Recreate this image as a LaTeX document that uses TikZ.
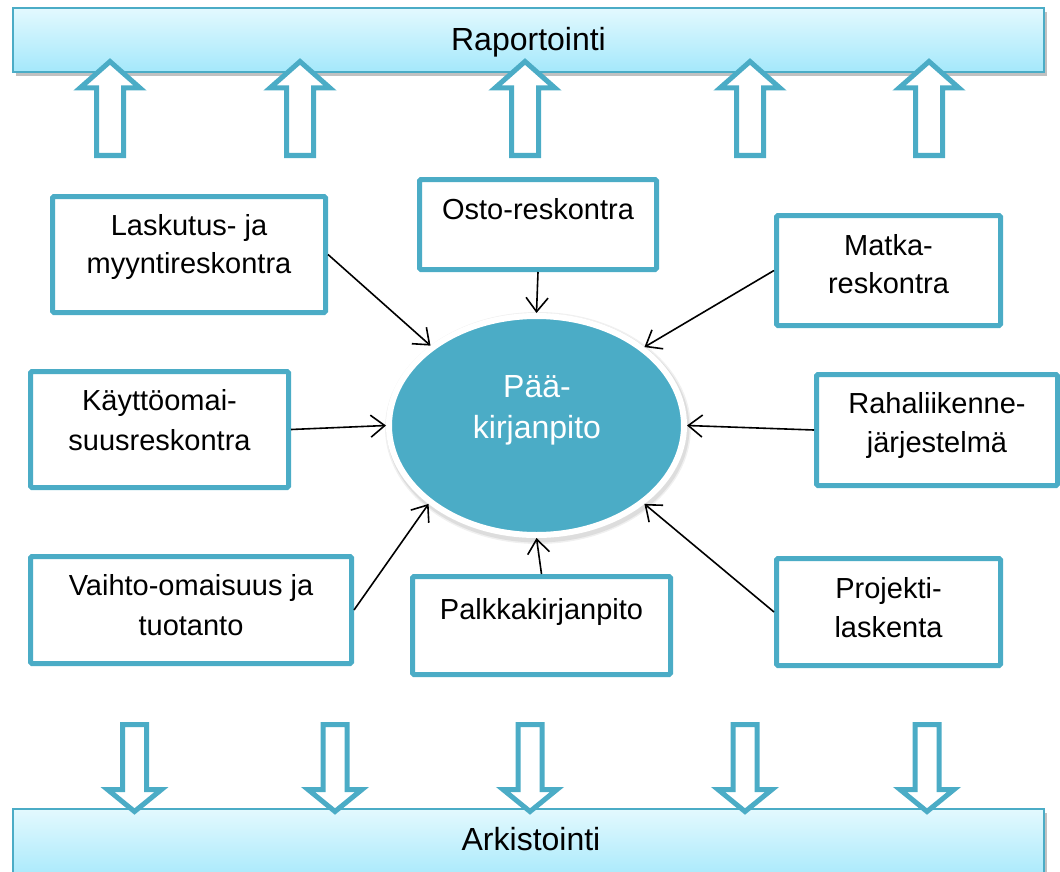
\documentclass[tikz,border=0pt]{standalone}
\usepackage{fontspec}
\setmainfont{Liberation Sans}
\usetikzlibrary{arrows.meta,shapes.geometric,shadows}
\definecolor{teal5}{HTML}{4BACC6}
\definecolor{bartop}{HTML}{E3F9FE}
\definecolor{barbot}{HTML}{A4E8FB}
\begin{document}
\begin{tikzpicture}[x=1pt,y=-1pt,
  bar/.style={draw=teal5, line width=1.5pt, top color=bartop, bottom color=barbot,
    minimum width=1031, inner sep=0,
    drop shadow={shadow xshift=3pt, shadow yshift=-4pt, opacity=0.35, fill=black!70}},
  bartxt/.style={font=\fontsize{32}{38}\selectfont, inner sep=0, anchor=base},
  boxst/.style={draw=teal5, line width=5pt, fill=white, rounded corners=1.5pt, inner sep=0},
  btxt/.style={font=\fontsize{29}{35}\selectfont, inner sep=0, anchor=base},
  etxt/.style={font=\fontsize{32}{38}\selectfont, inner sep=0, anchor=base, text=white},
  blockar/.style={draw=teal5, line width=5pt, fill=white, line join=miter},
  conn/.style={draw=black, line width=1.6pt, -{Straight Barb[length=14pt, width=22pt]}},
  uparr/.pic={\path[blockar] (0,61.5) -- (30,88) -- (13.5,88) -- (13.5,155.5) -- (-13.5,155.5) -- (-13.5,88) -- (-30,88) -- cycle;},
  downarr/.pic={\path[blockar] (0,811.5) -- (27,789.5) -- (12,789.5) -- (12,724.5) -- (-12,724.5) -- (-12,789.5) -- (-27,789.5) -- cycle;}
]
\useasboundingbox (0,0) rectangle (1060,872);

% bars
\node[bar, minimum height=64] (rap) at (528.5,40) {};
\node[bartxt] (raptxt) at (528.5,51) {Raportointi};
\node[bar, minimum height=74] (ark) at (528.5,846) {};
\node[bartxt] (arktxt) at (531,850) {Arkistointi};

% block arrows
\foreach \c [count=\i] in {110,300,525,750,929} \pic (up\i) at (\c,0) {uparr};
\foreach \c [count=\i] in {134.5,335,530,745,927} \pic (dn\i) at (\c,0) {downarr};

% central ellipse with soft halo
\fill[black, opacity=0.06] (538,428) ellipse [x radius=153, y radius=116];
\fill[black, opacity=0.08] (538,428) ellipse [x radius=151.5, y radius=114.5];
\node[ellipse, draw=white, line width=6pt, fill=teal5, minimum width=295, minimum height=219, inner sep=0] (ell) at (536.5,425.5) {};
\node[etxt] (e1) at (537,397) {Pää-};
\node[etxt] (e2) at (537,438) {kirjanpito};

% boxes
\node[boxst, minimum width=273, minimum height=116] (lask) at (189,254.5) {};
\node[btxt] (lask1) at (189,235) {Laskutus- ja};
\node[btxt] (lask2) at (189,273) {myyntireskontra};

\node[boxst, minimum width=237, minimum height=90] (osto) at (538,224.5) {};
\node[btxt] (osto1) at (538,219) {Osto-reskontra};

\node[boxst, minimum width=224, minimum height=110] (matka) at (888.5,270.5) {};
\node[btxt] (matka1) at (888.5,255) {Matka-};
\node[btxt] (matka2) at (888.5,293) {reskontra};

\node[boxst, minimum width=258, minimum height=116] (kayt) at (159.5,429.5) {};
\node[btxt] (kayt1) at (159.5,410) {Käyttöomai-};
\node[btxt] (kayt2) at (159.5,450) {suusreskontra};

\node[boxst, minimum width=241, minimum height=111] (raha) at (937,430) {};
\node[btxt] (raha1) at (937,413) {Rahaliikenne-};
\node[btxt] (raha2) at (937,452) {järjestelmä};

\node[boxst, minimum width=321, minimum height=107] (vaiht) at (191,610) {};
\node[btxt] (vaiht1) at (191,595) {Vaihto-omaisuus ja};
\node[btxt] (vaiht2) at (191,635) {tuotanto};

\node[boxst, minimum width=258, minimum height=98] (palk) at (541.5,625.5) {};
\node[btxt] (palk1) at (541.5,619) {Palkkakirjanpito};

\node[boxst, minimum width=224, minimum height=107] (proj) at (888.5,612) {};
\node[btxt] (proj1) at (888.5,598) {Projekti-};
\node[btxt] (proj2) at (888.5,637) {laskenta};

% connectors
\draw[conn] (lask.east) -- (ell.143.6);
\draw[conn] (osto.south) -- (ell.90);
\draw[conn] (matka.west) -- (ell.36.4);
\draw[conn] (kayt.east) -- (ell.180);
\draw[conn] (raha.west) -- (ell.0);
\draw[conn] (vaiht.east) -- (ell.216.6);
\draw[conn] (palk.north) -- (ell.270);
\draw[conn] (proj.west) -- (ell.324);
\end{tikzpicture}
\end{document}
